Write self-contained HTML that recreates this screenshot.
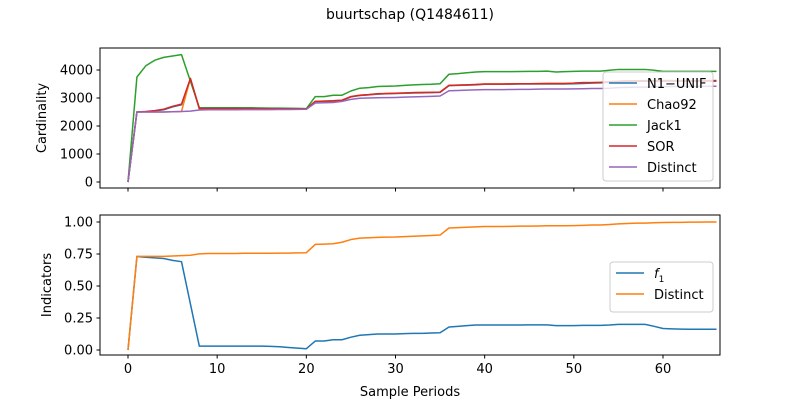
<!DOCTYPE html>
<html><head><meta charset="utf-8"><style>
body{margin:0;background:#fff;}
svg{font-family:"DejaVu Sans","Liberation Sans",sans-serif;}
</style></head><body>
<svg id="chart" width="800" height="400" xmlns="http://www.w3.org/2000/svg">
<rect width="800" height="400" fill="#fff"/>
<text x="410" y="19" font-size="14" text-anchor="middle">buurtschap (Q1484611)</text>
<g id="gtop"></g><g id="gbot"></g>
<text x="410" y="396" font-size="13" text-anchor="middle">Sample Periods</text>
<text transform="translate(46,118) rotate(-90)" font-size="13" text-anchor="middle">Cardinality</text>
<text transform="translate(51,285) rotate(-90)" font-size="13" text-anchor="middle">Indicators</text>
</svg>
<script>
const distinct=[0,2500,2500,2500,2500,2510,2520,2530,2570,2580,2580,2580,2580,2585,2585,2585,2585,2590,2590,2595,2600,2820,2830,2840,2880,2950,2990,3000,3010,3015,3020,3030,3040,3050,3060,3070,3260,3270,3280,3290,3300,3300,3300,3305,3310,3310,3315,3320,3320,3320,3325,3330,3340,3340,3350,3370,3380,3390,3390,3400,3405,3410,3410,3415,3415,3420,3420];
const jack1=[0,3750,4150,4350,4450,4500,4550,3600,2650,2650,2650,2650,2650,2650,2650,2645,2640,2640,2635,2630,2620,3050,3050,3100,3100,3250,3350,3370,3410,3420,3430,3450,3470,3480,3490,3510,3850,3870,3900,3930,3940,3940,3940,3940,3945,3950,3950,3960,3930,3940,3950,3960,3960,3960,3990,4020,4020,4020,4020,3990,3950,3950,3950,3950,3950,3950,3950];
const sor=[0,2500,2520,2550,2600,2700,2780,3700,2620,2620,2620,2620,2620,2620,2620,2620,2615,2615,2610,2610,2610,2880,2890,2900,2920,3050,3100,3120,3150,3160,3170,3180,3190,3195,3200,3210,3450,3460,3470,3480,3500,3500,3500,3505,3510,3510,3515,3520,3520,3520,3530,3550,3550,3560,3580,3600,3610,3610,3620,3620,3620,3620,3620,3620,3620,3620,3620];
const chao92=[0,2500,2500,2500,2500,2510,2520,3700,2620,2620,2620,2620,2620,2620,2620,2620,2615,2615,2610,2610,2610,2880,2890,2900,2920,3050,3100,3120,3150,3160,3170,3180,3190,3195,3200,3210,3450,3460,3470,3480,3500,3500,3500,3505,3510,3510,3515,3520,3520,3520,3530,3550,3550,3560,3580,3600,3610,3610,3620,3620,3620,3620,3620,3620,3620,3620,3620];
const n1unif=[0,2500,2510,2540,2580,2680,2760,3680,2610,2610,2610,2610,2610,2610,2610,2610,2605,2605,2600,2600,2600,2870,2880,2890,2910,3040,3090,3110,3140,3150,3160,3170,3180,3185,3190,3200,3440,3450,3460,3470,3490,3490,3490,3495,3500,3500,3500,3500,3500,3500,3510,3520,3530,3540,3560,3580,3590,3600,3600,3600,3600,3600,3600,3600,3600,3600,3600];
const f1=[0,0.73,0.725,0.72,0.715,0.70,0.69,0.36,0.03,0.03,0.03,0.03,0.03,0.03,0.03,0.03,0.028,0.025,0.02,0.015,0.01,0.07,0.07,0.08,0.08,0.1,0.115,0.12,0.125,0.125,0.125,0.128,0.13,0.13,0.133,0.135,0.18,0.185,0.19,0.195,0.195,0.195,0.195,0.195,0.195,0.196,0.196,0.196,0.19,0.19,0.19,0.192,0.192,0.192,0.195,0.2,0.2,0.2,0.2,0.185,0.168,0.165,0.163,0.162,0.162,0.162,0.162];
const distinctInd=[0,0.731,0.731,0.731,0.731,0.734,0.737,0.74,0.751,0.754,0.754,0.754,0.754,0.756,0.756,0.756,0.756,0.757,0.757,0.759,0.76,0.825,0.827,0.83,0.842,0.863,0.874,0.877,0.88,0.882,0.883,0.886,0.889,0.892,0.895,0.898,0.953,0.956,0.959,0.962,0.965,0.965,0.965,0.966,0.968,0.968,0.969,0.971,0.971,0.971,0.972,0.974,0.977,0.977,0.98,0.985,0.988,0.991,0.991,0.994,0.996,0.997,0.997,0.999,0.999,1.0,1.0];
const topTicks=[0,1000,2000,3000,4000];
const botTicks=[0,0.25,0.5,0.75,1.0];
const botTickLabels=["0.00","0.25","0.50","0.75","1.00"];
const xTicks=[0,10,20,30,40,50,60];
const NS="http://www.w3.org/2000/svg";
const X=v=>128+v*(535/60);
const YT=v=>182-v*0.028;
const YB=v=>350-v*128;
function mk(tag,attrs,parent){const e=document.createElementNS(NS,tag);for(const k in attrs)e.setAttribute(k,attrs[k]);parent.appendChild(e);return e;}
function axes(g,y0,y1,ticks,labels,Y,showX,nm){
  mk('rect',{x:100,y:y0,width:620,height:y1-y0,fill:'none',stroke:'#000','stroke-width':1},g);
  ticks.forEach((t,i)=>{const y=Y(t);
    mk('line',{x1:96.5,x2:100,y1:y,y2:y,stroke:'#000'},g);
    const tx=mk('text',{x:93,y:y+4.5,'font-size':13,'text-anchor':'end'},g);tx.textContent=labels[i];
    
    
  });
  xTicks.forEach(t=>{const x=X(t);
    mk('line',{x1:x,x2:x,y1:y1,y2:y1+3.5,stroke:'#000'},g);
    if(showX){const tx=mk('text',{x:x,y:y1+18,'font-size':13,'text-anchor':'middle'},g);tx.textContent=t;
      
      }
  });
}
function line(g,data,Y,color,nm){
  const p=mk('polyline',{points:data.map((v,i)=>X(i)+','+Y(v)).join(' '),fill:'none',stroke:color,'stroke-width':1.5,'stroke-linejoin':'round'},g);
  
  
}
function legend(g,x,y,w,h,items){
  const r=mk('rect',{x:x,y:y,width:w,height:h,rx:3,fill:'#fff','fill-opacity':0.8,stroke:'#ccc'},g);
  
  
  items.forEach((it,i)=>{const yy=y+11+i*21;
    mk('line',{x1:x+6,x2:x+34,y1:yy,y2:yy,stroke:it[1],'stroke-width':1.5},g);
    const t=mk('text',{x:x+44,y:yy+5,'font-size':13},g);
    if(it[0]==='f1'){t.setAttribute('font-style','italic');t.textContent='f';const s=mk('tspan',{'font-size':9,dy:4,'font-style':'normal'},t);s.textContent='1';}
    else t.textContent=it[0];
    
    
  });
}
const gTop=document.getElementById('gtop'),gBot=document.getElementById('gbot');
axes(gTop,48,188,topTicks,topTicks.map(String),YT,false,'top');
line(gTop,n1unif,YT,'#1f77b4','line-n1-unif');
line(gTop,chao92,YT,'#ff7f0e','line-chao92');
line(gTop,jack1,YT,'#2ca02c','line-jack1');
line(gTop,sor,YT,'#d62728','line-sor');
line(gTop,distinct,YT,'#9467bd','line-distinct');
legend(gTop,603,72,110,109,[['N1\u2212UNIF','#1f77b4'],['Chao92','#ff7f0e'],['Jack1','#2ca02c'],['SOR','#d62728'],['Distinct','#9467bd']]);
axes(gBot,215,355,botTicks,botTickLabels,YB,true,'bottom');
line(gBot,f1,YB,'#1f77b4','line-f1');
line(gBot,distinctInd,YB,'#ff7f0e','line-distinct-indicator');
legend(gBot,610,262,103,50,[['f1','#1f77b4'],['Distinct','#ff7f0e']]);
</script>
</body></html>
